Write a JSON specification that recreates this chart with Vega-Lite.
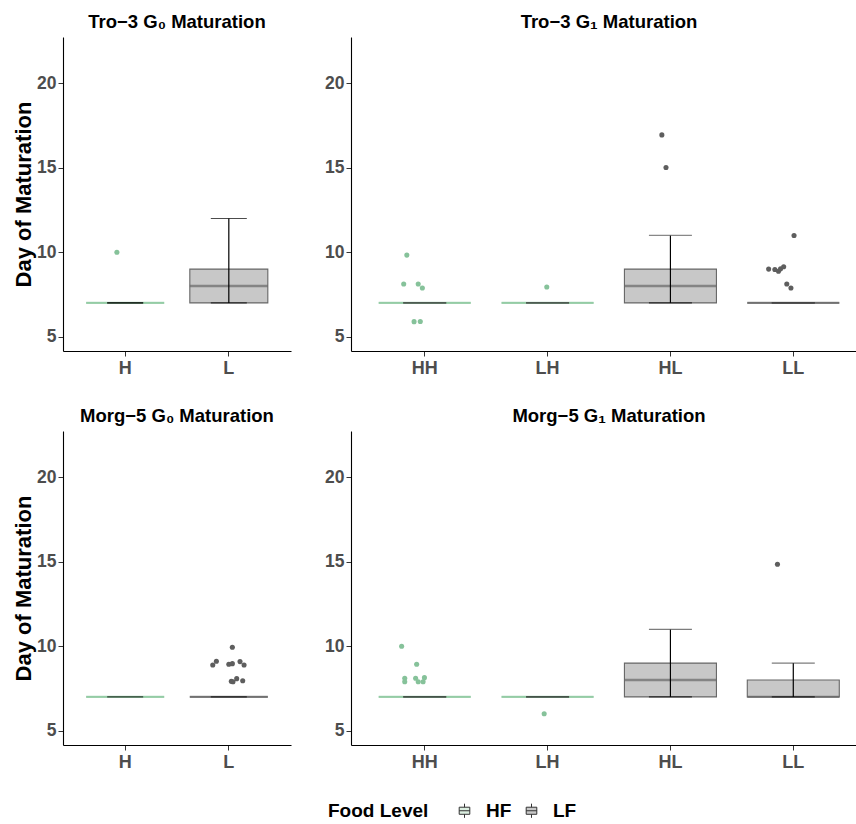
{
  "$schema": "https://vega.github.io/schema/vega-lite/v6.json",
  "padding": {"left": 12, "top": 12, "right": 0, "bottom": 5},
  "datasets": {
    "boxes": [
      {"panel": "TL", "group": "H", "food": "HF", "min": 7, "q1": 7, "median": 7, "q3": 7, "max": 7},
      {"panel": "TL", "group": "L", "food": "LF", "min": 7, "q1": 7, "median": 8, "q3": 9, "max": 12},
      {"panel": "TR", "group": "HH", "food": "HF", "min": 7, "q1": 7, "median": 7, "q3": 7, "max": 7},
      {"panel": "TR", "group": "LH", "food": "HF", "min": 7, "q1": 7, "median": 7, "q3": 7, "max": 7},
      {"panel": "TR", "group": "HL", "food": "LF", "min": 7, "q1": 7, "median": 8, "q3": 9, "max": 11},
      {"panel": "TR", "group": "LL", "food": "LF", "min": 7, "q1": 7, "median": 7, "q3": 7, "max": 7},
      {"panel": "BL", "group": "H", "food": "HF", "min": 7, "q1": 7, "median": 7, "q3": 7, "max": 7},
      {"panel": "BL", "group": "L", "food": "LF", "min": 7, "q1": 7, "median": 7, "q3": 7, "max": 7},
      {"panel": "BR", "group": "HH", "food": "HF", "min": 7, "q1": 7, "median": 7, "q3": 7, "max": 7},
      {"panel": "BR", "group": "LH", "food": "HF", "min": 7, "q1": 7, "median": 7, "q3": 7, "max": 7},
      {"panel": "BR", "group": "HL", "food": "LF", "min": 7, "q1": 7, "median": 8, "q3": 9, "max": 11},
      {"panel": "BR", "group": "LL", "food": "LF", "min": 7, "q1": 7, "median": 7, "q3": 8, "max": 9}
    ],
    "points": [
      {"panel": "TL", "group": "H", "food": "HF", "day": 10.0, "jitter": -0.08},
      {"panel": "TR", "group": "HH", "food": "HF", "day": 9.83, "jitter": -0.08},
      {"panel": "TR", "group": "HH", "food": "HF", "day": 8.12, "jitter": -0.11},
      {"panel": "TR", "group": "HH", "food": "HF", "day": 8.12, "jitter": 0.03},
      {"panel": "TR", "group": "HH", "food": "HF", "day": 7.88, "jitter": 0.07},
      {"panel": "TR", "group": "HH", "food": "HF", "day": 5.89, "jitter": -0.01},
      {"panel": "TR", "group": "HH", "food": "HF", "day": 5.9, "jitter": 0.05},
      {"panel": "TR", "group": "LH", "food": "HF", "day": 7.94, "jitter": 0.085},
      {"panel": "TR", "group": "HL", "food": "LF", "day": 16.95, "jitter": 0.01},
      {"panel": "TR", "group": "HL", "food": "LF", "day": 15.02, "jitter": 0.05},
      {"panel": "TR", "group": "LL", "food": "LF", "day": 9.0, "jitter": -0.145},
      {"panel": "TR", "group": "LL", "food": "LF", "day": 8.98, "jitter": -0.085},
      {"panel": "TR", "group": "LL", "food": "LF", "day": 8.87, "jitter": -0.05},
      {"panel": "TR", "group": "LL", "food": "LF", "day": 9.02, "jitter": -0.03},
      {"panel": "TR", "group": "LL", "food": "LF", "day": 9.14, "jitter": 0.0},
      {"panel": "TR", "group": "LL", "food": "LF", "day": 8.12, "jitter": 0.03},
      {"panel": "TR", "group": "LL", "food": "LF", "day": 7.88, "jitter": 0.07},
      {"panel": "TR", "group": "LL", "food": "LF", "day": 10.99, "jitter": 0.1},
      {"panel": "BL", "group": "L", "food": "LF", "day": 9.94, "jitter": 0.034},
      {"panel": "BL", "group": "L", "food": "LF", "day": 8.89, "jitter": -0.155},
      {"panel": "BL", "group": "L", "food": "LF", "day": 9.11, "jitter": -0.12},
      {"panel": "BL", "group": "L", "food": "LF", "day": 8.93, "jitter": 0.0},
      {"panel": "BL", "group": "L", "food": "LF", "day": 8.97, "jitter": 0.034},
      {"panel": "BL", "group": "L", "food": "LF", "day": 9.09, "jitter": 0.108},
      {"panel": "BL", "group": "L", "food": "LF", "day": 8.89, "jitter": 0.147},
      {"panel": "BL", "group": "L", "food": "LF", "day": 7.92, "jitter": 0.024},
      {"panel": "BL", "group": "L", "food": "LF", "day": 8.08, "jitter": 0.076},
      {"panel": "BL", "group": "L", "food": "LF", "day": 7.96, "jitter": 0.134},
      {"panel": "BL", "group": "L", "food": "LF", "day": 7.9, "jitter": 0.04},
      {"panel": "BR", "group": "HH", "food": "HF", "day": 10.0, "jitter": -0.13},
      {"panel": "BR", "group": "HH", "food": "HF", "day": 8.93, "jitter": 0.015},
      {"panel": "BR", "group": "HH", "food": "HF", "day": 8.1, "jitter": -0.1},
      {"panel": "BR", "group": "HH", "food": "HF", "day": 7.9, "jitter": -0.1},
      {"panel": "BR", "group": "HH", "food": "HF", "day": 8.1, "jitter": 0.005},
      {"panel": "BR", "group": "HH", "food": "HF", "day": 7.9, "jitter": 0.03},
      {"panel": "BR", "group": "HH", "food": "HF", "day": 7.9, "jitter": 0.077},
      {"panel": "BR", "group": "HH", "food": "HF", "day": 8.14, "jitter": 0.09},
      {"panel": "BR", "group": "LH", "food": "HF", "day": 6.0, "jitter": 0.06},
      {"panel": "BR", "group": "LL", "food": "LF", "day": 14.86, "jitter": -0.06}
    ]
  },
  "vconcat": [
    {
      "hconcat": [
        {
          "title": "Tro−3 G₀ Maturation",
          "width": 228, "height": 314,
          "resolve": {"scale": {"x": "independent"}, "axis": {"x": "independent"}},
          "layer": [
            {"data": {"name": "boxes"}, "transform": [{"filter": "datum.panel === 'TL'"}],
             "mark": {"type": "bar", "width": 78, "strokeWidth": 1.1},
             "encoding": {
               "x": {"field": "group", "type": "nominal", "sort": ["H", "L"], "scale": {"domain": ["H", "L"], "paddingInner": 0, "paddingOuter": 0.1}, "title": null},
               "y": {"field": "q1", "type": "quantitative", "scale": {"domain": [4.15, 22.75], "nice": false, "zero": false}, "axis": {"values": [5, 10, 15, 20]}, "title": "Day of Maturation"},
               "y2": {"field": "q3"},
               "fill": {"field": "food", "type": "nominal", "scale": {"domain": ["HF", "LF"], "range": ["#DCEFE1", "#C8C8C8"]}, "title": "Food Level", "legend": {"orient": "none", "legendX": 265, "legendY": 764, "direction": "horizontal", "titleOrient": "left"}},
               "stroke": {"condition": {"test": "datum.food === 'HF'", "value": "#8CC79E"}, "value": "#666666"}
             }},
            {"data": {"name": "boxes"}, "transform": [{"filter": "datum.panel === 'TL'"}],
             "mark": {"type": "tick", "size": 78, "thickness": 2.4},
             "encoding": {
               "x": {"field": "group", "type": "nominal", "sort": ["H", "L"], "scale": {"domain": ["H", "L"], "paddingInner": 0, "paddingOuter": 0.1}, "axis": null},
               "y": {"field": "median", "type": "quantitative", "title": "Day of Maturation"},
               "color": {"condition": {"test": "datum.food === 'HF'", "value": "#8CC79E"}, "value": "#666666"}
             }},
            {"data": {"name": "boxes"}, "transform": [{"filter": "datum.panel === 'TL'"}],
             "mark": {"type": "rule", "color": "#000", "strokeWidth": 1.2},
             "encoding": {
               "x": {"field": "group", "type": "nominal", "sort": ["H", "L"], "scale": {"domain": ["H", "L"], "paddingInner": 0, "paddingOuter": 0.1}, "axis": null},
               "y": {"field": "min", "type": "quantitative", "title": "Day of Maturation"},
               "y2": {"field": "max"}
             }},
            {"data": {"name": "boxes"}, "transform": [{"filter": "datum.panel === 'TL'"}],
             "mark": {"type": "tick", "size": 36, "thickness": 1.2, "color": "#000"},
             "encoding": {
               "x": {"field": "group", "type": "nominal", "sort": ["H", "L"], "scale": {"domain": ["H", "L"], "paddingInner": 0, "paddingOuter": 0.1}, "axis": null},
               "y": {"field": "min", "type": "quantitative", "title": "Day of Maturation"}
             }},
            {"data": {"name": "boxes"}, "transform": [{"filter": "datum.panel === 'TL'"}],
             "mark": {"type": "tick", "size": 36, "thickness": 1.2, "color": "#000"},
             "encoding": {
               "x": {"field": "group", "type": "nominal", "sort": ["H", "L"], "scale": {"domain": ["H", "L"], "paddingInner": 0, "paddingOuter": 0.1}, "axis": null},
               "y": {"field": "max", "type": "quantitative", "title": "Day of Maturation"}
             }},
            {"data": {"name": "points"}, "transform": [{"filter": "datum.panel === 'TL'"}],
             "mark": {"type": "circle", "size": 26, "opacity": 1},
             "encoding": {
               "x": {"field": "group", "type": "nominal", "sort": ["H", "L"], "scale": {"domain": ["H", "L"], "paddingInner": 0, "paddingOuter": 0.1}, "axis": null},
               "xOffset": {"field": "jitter", "type": "quantitative", "scale": {"domain": [-0.5, 0.5], "range": [0, 103.64]}},
               "y": {"field": "day", "type": "quantitative", "title": "Day of Maturation"},
               "color": {"condition": {"test": "datum.food === 'HF'", "value": "#86C29A"}, "value": "#5E5E5E"}
             }}
          ]
        },
        {
          "title": "Tro−3 G₁ Maturation",
          "width": 516, "height": 314,
          "resolve": {"scale": {"x": "independent"}, "axis": {"x": "independent"}},
          "layer": [
            {"data": {"name": "boxes"}, "transform": [{"filter": "datum.panel === 'TR'"}],
             "mark": {"type": "bar", "width": 92, "strokeWidth": 1.1},
             "encoding": {
               "x": {"field": "group", "type": "nominal", "sort": ["HH", "LH", "HL", "LL"], "scale": {"domain": ["HH", "LH", "HL", "LL"], "paddingInner": 0, "paddingOuter": 0.1}, "title": null},
               "y": {"field": "q1", "type": "quantitative", "scale": {"domain": [4.15, 22.75], "nice": false, "zero": false}, "axis": {"values": [5, 10, 15, 20]}, "title": null},
               "y2": {"field": "q3"},
               "fill": {"field": "food", "type": "nominal", "scale": {"domain": ["HF", "LF"], "range": ["#DCEFE1", "#C8C8C8"]}, "title": "Food Level", "legend": {"orient": "none", "legendX": 265, "legendY": 764, "direction": "horizontal", "titleOrient": "left"}},
               "stroke": {"condition": {"test": "datum.food === 'HF'", "value": "#8CC79E"}, "value": "#666666"}
             }},
            {"data": {"name": "boxes"}, "transform": [{"filter": "datum.panel === 'TR'"}],
             "mark": {"type": "tick", "size": 92, "thickness": 2.4},
             "encoding": {
               "x": {"field": "group", "type": "nominal", "sort": ["HH", "LH", "HL", "LL"], "scale": {"domain": ["HH", "LH", "HL", "LL"], "paddingInner": 0, "paddingOuter": 0.1}, "axis": null},
               "y": {"field": "median", "type": "quantitative", "title": null},
               "color": {"condition": {"test": "datum.food === 'HF'", "value": "#8CC79E"}, "value": "#666666"}
             }},
            {"data": {"name": "boxes"}, "transform": [{"filter": "datum.panel === 'TR'"}],
             "mark": {"type": "rule", "color": "#000", "strokeWidth": 1.2},
             "encoding": {
               "x": {"field": "group", "type": "nominal", "sort": ["HH", "LH", "HL", "LL"], "scale": {"domain": ["HH", "LH", "HL", "LL"], "paddingInner": 0, "paddingOuter": 0.1}, "axis": null},
               "y": {"field": "min", "type": "quantitative", "title": null},
               "y2": {"field": "max"}
             }},
            {"data": {"name": "boxes"}, "transform": [{"filter": "datum.panel === 'TR'"}],
             "mark": {"type": "tick", "size": 43, "thickness": 1.2, "color": "#000"},
             "encoding": {
               "x": {"field": "group", "type": "nominal", "sort": ["HH", "LH", "HL", "LL"], "scale": {"domain": ["HH", "LH", "HL", "LL"], "paddingInner": 0, "paddingOuter": 0.1}, "axis": null},
               "y": {"field": "min", "type": "quantitative", "title": null}
             }},
            {"data": {"name": "boxes"}, "transform": [{"filter": "datum.panel === 'TR'"}],
             "mark": {"type": "tick", "size": 43, "thickness": 1.4, "color": "#555"},
             "encoding": {
               "x": {"field": "group", "type": "nominal", "sort": ["HH", "LH", "HL", "LL"], "scale": {"domain": ["HH", "LH", "HL", "LL"], "paddingInner": 0, "paddingOuter": 0.1}, "axis": null},
               "y": {"field": "max", "type": "quantitative", "title": null}
             }},
            {"data": {"name": "points"}, "transform": [{"filter": "datum.panel === 'TR'"}],
             "mark": {"type": "circle", "size": 26, "opacity": 1},
             "encoding": {
               "x": {"field": "group", "type": "nominal", "sort": ["HH", "LH", "HL", "LL"], "scale": {"domain": ["HH", "LH", "HL", "LL"], "paddingInner": 0, "paddingOuter": 0.1}, "axis": null},
               "xOffset": {"field": "jitter", "type": "quantitative", "scale": {"domain": [-0.5, 0.5], "range": [0, 122.86]}},
               "y": {"field": "day", "type": "quantitative", "title": null},
               "color": {"condition": {"test": "datum.food === 'HF'", "value": "#86C29A"}, "value": "#5E5E5E"}
             }}
          ]
        }
      ],
      "spacing": 33
    },
    {
      "hconcat": [
        {
          "title": "Morg−5 G₀ Maturation",
          "width": 228, "height": 314,
          "resolve": {"scale": {"x": "independent"}, "axis": {"x": "independent"}},
          "layer": [
            {"data": {"name": "boxes"}, "transform": [{"filter": "datum.panel === 'BL'"}],
             "mark": {"type": "bar", "width": 78, "strokeWidth": 1.1},
             "encoding": {
               "x": {"field": "group", "type": "nominal", "sort": ["H", "L"], "scale": {"domain": ["H", "L"], "paddingInner": 0, "paddingOuter": 0.1}, "title": null},
               "y": {"field": "q1", "type": "quantitative", "scale": {"domain": [4.15, 22.75], "nice": false, "zero": false}, "axis": {"values": [5, 10, 15, 20]}, "title": "Day of Maturation"},
               "y2": {"field": "q3"},
               "fill": {"field": "food", "type": "nominal", "scale": {"domain": ["HF", "LF"], "range": ["#DCEFE1", "#C8C8C8"]}, "title": "Food Level", "legend": {"orient": "none", "legendX": 265, "legendY": 764, "direction": "horizontal", "titleOrient": "left"}},
               "stroke": {"condition": {"test": "datum.food === 'HF'", "value": "#8CC79E"}, "value": "#666666"}
             }},
            {"data": {"name": "boxes"}, "transform": [{"filter": "datum.panel === 'BL'"}],
             "mark": {"type": "tick", "size": 78, "thickness": 2.4},
             "encoding": {
               "x": {"field": "group", "type": "nominal", "sort": ["H", "L"], "scale": {"domain": ["H", "L"], "paddingInner": 0, "paddingOuter": 0.1}, "axis": null},
               "y": {"field": "median", "type": "quantitative", "title": "Day of Maturation"},
               "color": {"condition": {"test": "datum.food === 'HF'", "value": "#8CC79E"}, "value": "#666666"}
             }},
            {"data": {"name": "boxes"}, "transform": [{"filter": "datum.panel === 'BL'"}],
             "mark": {"type": "tick", "size": 36, "thickness": 1.2, "color": "#000"},
             "encoding": {
               "x": {"field": "group", "type": "nominal", "sort": ["H", "L"], "scale": {"domain": ["H", "L"], "paddingInner": 0, "paddingOuter": 0.1}, "axis": null},
               "y": {"field": "min", "type": "quantitative", "title": "Day of Maturation"}
             }},
            {"data": {"name": "points"}, "transform": [{"filter": "datum.panel === 'BL'"}],
             "mark": {"type": "circle", "size": 26, "opacity": 1},
             "encoding": {
               "x": {"field": "group", "type": "nominal", "sort": ["H", "L"], "scale": {"domain": ["H", "L"], "paddingInner": 0, "paddingOuter": 0.1}, "axis": null},
               "xOffset": {"field": "jitter", "type": "quantitative", "scale": {"domain": [-0.5, 0.5], "range": [0, 103.64]}},
               "y": {"field": "day", "type": "quantitative", "title": "Day of Maturation"},
               "color": {"condition": {"test": "datum.food === 'HF'", "value": "#86C29A"}, "value": "#5E5E5E"}
             }}
          ]
        },
        {
          "title": "Morg−5 G₁ Maturation",
          "width": 516, "height": 314,
          "resolve": {"scale": {"x": "independent"}, "axis": {"x": "independent"}},
          "layer": [
            {"data": {"name": "boxes"}, "transform": [{"filter": "datum.panel === 'BR'"}],
             "mark": {"type": "bar", "width": 92, "strokeWidth": 1.1},
             "encoding": {
               "x": {"field": "group", "type": "nominal", "sort": ["HH", "LH", "HL", "LL"], "scale": {"domain": ["HH", "LH", "HL", "LL"], "paddingInner": 0, "paddingOuter": 0.1}, "title": null},
               "y": {"field": "q1", "type": "quantitative", "scale": {"domain": [4.15, 22.75], "nice": false, "zero": false}, "axis": {"values": [5, 10, 15, 20]}, "title": null},
               "y2": {"field": "q3"},
               "fill": {"field": "food", "type": "nominal", "scale": {"domain": ["HF", "LF"], "range": ["#DCEFE1", "#C8C8C8"]}, "title": "Food Level", "legend": {"orient": "none", "legendX": 265, "legendY": 764, "direction": "horizontal", "titleOrient": "left"}},
               "stroke": {"condition": {"test": "datum.food === 'HF'", "value": "#8CC79E"}, "value": "#666666"}
             }},
            {"data": {"name": "boxes"}, "transform": [{"filter": "datum.panel === 'BR'"}],
             "mark": {"type": "tick", "size": 92, "thickness": 2.4},
             "encoding": {
               "x": {"field": "group", "type": "nominal", "sort": ["HH", "LH", "HL", "LL"], "scale": {"domain": ["HH", "LH", "HL", "LL"], "paddingInner": 0, "paddingOuter": 0.1}, "axis": null},
               "y": {"field": "median", "type": "quantitative", "title": null},
               "color": {"condition": {"test": "datum.food === 'HF'", "value": "#8CC79E"}, "value": "#666666"}
             }},
            {"data": {"name": "boxes"}, "transform": [{"filter": "datum.panel === 'BR'"}],
             "mark": {"type": "rule", "color": "#000", "strokeWidth": 1.2},
             "encoding": {
               "x": {"field": "group", "type": "nominal", "sort": ["HH", "LH", "HL", "LL"], "scale": {"domain": ["HH", "LH", "HL", "LL"], "paddingInner": 0, "paddingOuter": 0.1}, "axis": null},
               "y": {"field": "min", "type": "quantitative", "title": null},
               "y2": {"field": "max"}
             }},
            {"data": {"name": "boxes"}, "transform": [{"filter": "datum.panel === 'BR'"}],
             "mark": {"type": "tick", "size": 43, "thickness": 1.2, "color": "#000"},
             "encoding": {
               "x": {"field": "group", "type": "nominal", "sort": ["HH", "LH", "HL", "LL"], "scale": {"domain": ["HH", "LH", "HL", "LL"], "paddingInner": 0, "paddingOuter": 0.1}, "axis": null},
               "y": {"field": "min", "type": "quantitative", "title": null}
             }},
            {"data": {"name": "boxes"}, "transform": [{"filter": "datum.panel === 'BR'"}],
             "mark": {"type": "tick", "size": 43, "thickness": 1.4, "color": "#444"},
             "encoding": {
               "x": {"field": "group", "type": "nominal", "sort": ["HH", "LH", "HL", "LL"], "scale": {"domain": ["HH", "LH", "HL", "LL"], "paddingInner": 0, "paddingOuter": 0.1}, "axis": null},
               "y": {"field": "max", "type": "quantitative", "title": null}
             }},
            {"data": {"name": "points"}, "transform": [{"filter": "datum.panel === 'BR'"}],
             "mark": {"type": "circle", "size": 26, "opacity": 1},
             "encoding": {
               "x": {"field": "group", "type": "nominal", "sort": ["HH", "LH", "HL", "LL"], "scale": {"domain": ["HH", "LH", "HL", "LL"], "paddingInner": 0, "paddingOuter": 0.1}, "axis": null},
               "xOffset": {"field": "jitter", "type": "quantitative", "scale": {"domain": [-0.5, 0.5], "range": [0, 122.86]}},
               "y": {"field": "day", "type": "quantitative", "title": null},
               "color": {"condition": {"test": "datum.food === 'HF'", "value": "#86C29A"}, "value": "#5E5E5E"}
             }}
          ]
        }
      ],
      "spacing": 33
    }
  ],
  "spacing": 29,
  "resolve": {"scale": {"fill": "shared"}},
  "config": {
    "font": "Liberation Sans",
    "view": {"stroke": null},
    "axis": {
      "grid": false,
      "domainColor": "#000",
      "domainWidth": 1.1,
      "tickColor": "#333",
      "tickSize": 5,
      "labelFont": "Liberation Sans",
      "labelFontSize": 17.5,
      "labelFontWeight": "bold",
      "labelColor": "#4D4D4D",
      "labelPadding": 2,
      "titleFont": "Liberation Sans",
      "titleFontSize": 22,
      "titleFontWeight": "bold",
      "titleColor": "#000"
    },
    "axisX": {"labelAngle": 0, "labelPadding": 3, "labelFontSize": 18},
    "axisY": {"titlePadding": 1},
    "title": {"fontSize": 18.5, "fontWeight": "bold", "color": "#000", "anchor": "middle", "offset": 6, "font": "Liberation Sans"},
    "legend": {
      "titleFontSize": 19,
      "titleFontWeight": "bold",
      "titleColor": "#000",
      "titleFont": "Liberation Sans",
      "titlePadding": 26,
      "labelFontSize": 19,
      "labelFontWeight": "bold",
      "labelColor": "#000",
      "labelFont": "Liberation Sans",
      "labelOffset": 12,
      "symbolType": "M-0.75,-0.5H0.75V0.5H-0.75Z M0,-1V-0.5 M0,0.5V1 M-0.75,0H0.75",
      "symbolSize": 200,
      "symbolStrokeColor": "#333",
      "symbolStrokeWidth": 1,
      "columnPadding": 10
    }
  }
}
